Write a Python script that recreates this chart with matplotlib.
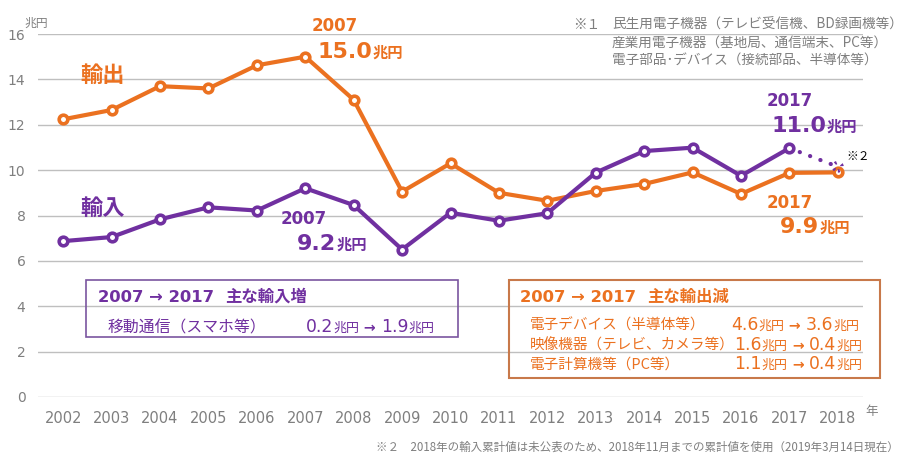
import matplotlib
matplotlib.use("Agg")
import matplotlib.pyplot as plt
from matplotlib.patches import Rectangle

W, H = 902, 454

years = list(range(2002, 2019))
exports = [12.24, 12.65, 13.7, 13.6, 14.62, 15.0, 13.1, 9.05, 10.3, 9.0,
           8.65, 9.08, 9.39, 9.9, 8.95, 9.88, 9.9]
imports = [6.87, 7.05, 7.83, 8.36, 8.22, 9.2, 8.46, 6.5, 8.12, 7.77,
           8.1, 9.89, 10.84, 10.99, 9.75, 10.97]
import_2018 = 10.15  # 2018年11月までの累計値(点線)

yticks = [0, 2, 4, 6, 8, 10, 12, 14, 16]

note1 = ["民生用電子機器（テレビ受信機、BD録画機等）",
         "産業用電子機器（基地局、通信端末、PC等）",
         "電子部品･デバイス（接続部品、半導体等）"]
note2 = "※２　2018年の輸入累計値は未公表のため、2018年11月までの累計値を使用（2019年3月14日現在）"

inc_rows = [("移動通信（スマホ等）", "0.2", "1.9")]
dec_rows = [("電子デバイス（半導体等）", "4.6", "3.6"),
            ("映像機器（テレビ、カメラ等）", "1.6", "0.4"),
            ("電子計算機等（PC等）", "1.1", "0.4")]

ORANGE = "#EB7120"
PURPLE = "#7030A0"
GRAY = "#7F7F7F"
JP = ["Noto Sans CJK JP", "DejaVu Sans"]

plt.rcParams["font.family"] = ["DejaVu Sans", "Noto Sans CJK JP"]

fig = plt.figure(figsize=(W / 100, H / 100), dpi=100)
r = fig.canvas.get_renderer()
ax = fig.add_axes([38 / W, 1 - 397 / H, (863 - 38) / W, (397 - 34) / H])

ax.plot(years[:-1], imports, "-", color=PURPLE, lw=3, zorder=3)
ax.plot(years[-2:], [imports[-1], import_2018], color=PURPLE, lw=3,
        ls=(0, (0.05, 2.6)), dash_capstyle="round", zorder=3)
ax.plot(years, exports, "-o", color=ORANGE, lw=3, ms=6.2, mew=2.6,
        mfc="white", mec=ORANGE, zorder=2)
ax.plot(years[:-1], imports, "o", color=PURPLE, ms=6.2, mew=2.6,
        mfc="white", mec=PURPLE, zorder=4)
ax.scatter([years[-1]], [import_2018], s=38, facecolor="none", edgecolor=PURPLE,
           linewidths=2.4, linestyle=(0, (0.6, 1.6)), zorder=4)

ax.set_xlim(2001.48, 2018.52)
ax.set_ylim(0, 16)
ax.set_yticks(yticks)
ax.set_xticks(years)
ax.grid(axis="y", color="#BFBFBF", lw=1)
ax.set_axisbelow(True)
for s in ax.spines.values():
    s.set_visible(False)
ax.tick_params(axis="both", length=0, colors=GRAY)
ax.tick_params(axis="y", labelsize=10, pad=9)
ax.tick_params(axis="x", labelsize=10.5, pad=10)


def ftext(x, y, s, **kw):
    return fig.text(x / W, 1 - y / H, s, **kw)


def runs(x, y, parts, color, weight="normal", family=None):
    # 大小混在の文字列をベースライン揃えで横につなぐ
    for part in parts:
        s, fs = part[0], part[1]
        wt = part[2] if len(part) > 2 else weight
        t = ftext(x, y, s, fontsize=fs, color=color, weight=wt,
                  ha="left", va="baseline", family=family)
        x += t.get_window_extent(renderer=r).width
    return x


def value_parts(a, b):
    return [(a, 12.4), ("兆円", 9.4), (" → ", 10.2, "bold"), (b, 12.4), ("兆円", 9.4)]


# 単位
ftext(24, 23, "兆円", fontsize=8.5, color=GRAY, va="center", family=JP)
ftext(865, 412, "年", fontsize=9, color=GRAY, va="center", family=JP)

# 系列名
ftext(80, 75, "輸出", fontsize=16, color=ORANGE, weight="bold", va="center", family=JP)
ftext(80, 208, "輸入", fontsize=16, color=PURPLE, weight="bold", va="center", family=JP)

# 値ラベル
runs(312, 31, [("2007", 12)], ORANGE, "bold")
runs(318, 58, [("15.0", 16), ("兆円", 11)], ORANGE, "bold")
runs(281, 224, [("2007", 12)], PURPLE, "bold")
runs(297, 250, [("9.2", 16), ("兆円", 11)], PURPLE, "bold")
runs(767, 106, [("2017", 12)], PURPLE, "bold")
runs(772, 132, [("11.0", 16), ("兆円", 11)], PURPLE, "bold")
runs(767, 208, [("2017", 12)], ORANGE, "bold")
runs(780, 233, [("9.9", 16), ("兆円", 11)], ORANGE, "bold")
ftext(846, 157, "※２", fontsize=8.5, color="black", va="center", family=JP)

# 注記
ftext(573, 25, "※１", fontsize=9.8, color=GRAY, va="center", family=JP)
for i, line in enumerate(note1):
    ftext(612, 25 + 18 * i, line, fontsize=9.8, color=GRAY, va="center", family=JP)
ftext(899, 447, note2, fontsize=8.3, color=GRAY, ha="right", va="center", family=JP)

# 囲み(輸入増)
fig.patches.append(Rectangle((86 / W, 1 - 337 / H), (458 - 86) / W, (337 - 280) / H,
                             transform=fig.transFigure, fill=False,
                             edgecolor="#7A55A0", lw=1.2))
runs(98, 302, [("2007 → 2017  ", 11.8), ("主な輸入増", 11.8)], PURPLE, "bold")
for label, a, b in inc_rows:
    ftext(108, 332, label, fontsize=11.4, color=PURPLE, va="baseline", family=JP)
    runs(306, 332, value_parts(a, b), PURPLE)

# 囲み(輸出減)
fig.patches.append(Rectangle((509 / W, 1 - 378 / H), (880 - 509) / W, (378 - 280) / H,
                             transform=fig.transFigure, fill=False,
                             edgecolor="#C8794A", lw=1.5))
runs(520, 302, [("2007 → 2017  ", 11.8), ("主な輸出減", 11.8)], ORANGE, "bold")
for i, (label, a, b) in enumerate(dec_rows):
    yb = [330, 350, 369][i]
    ftext(530, yb, label, fontsize=10.5, color=ORANGE, va="baseline", family=JP)
    runs([731, 734, 734][i], yb, value_parts(a, b), ORANGE)

fig.savefig("out.png", dpi=100)
